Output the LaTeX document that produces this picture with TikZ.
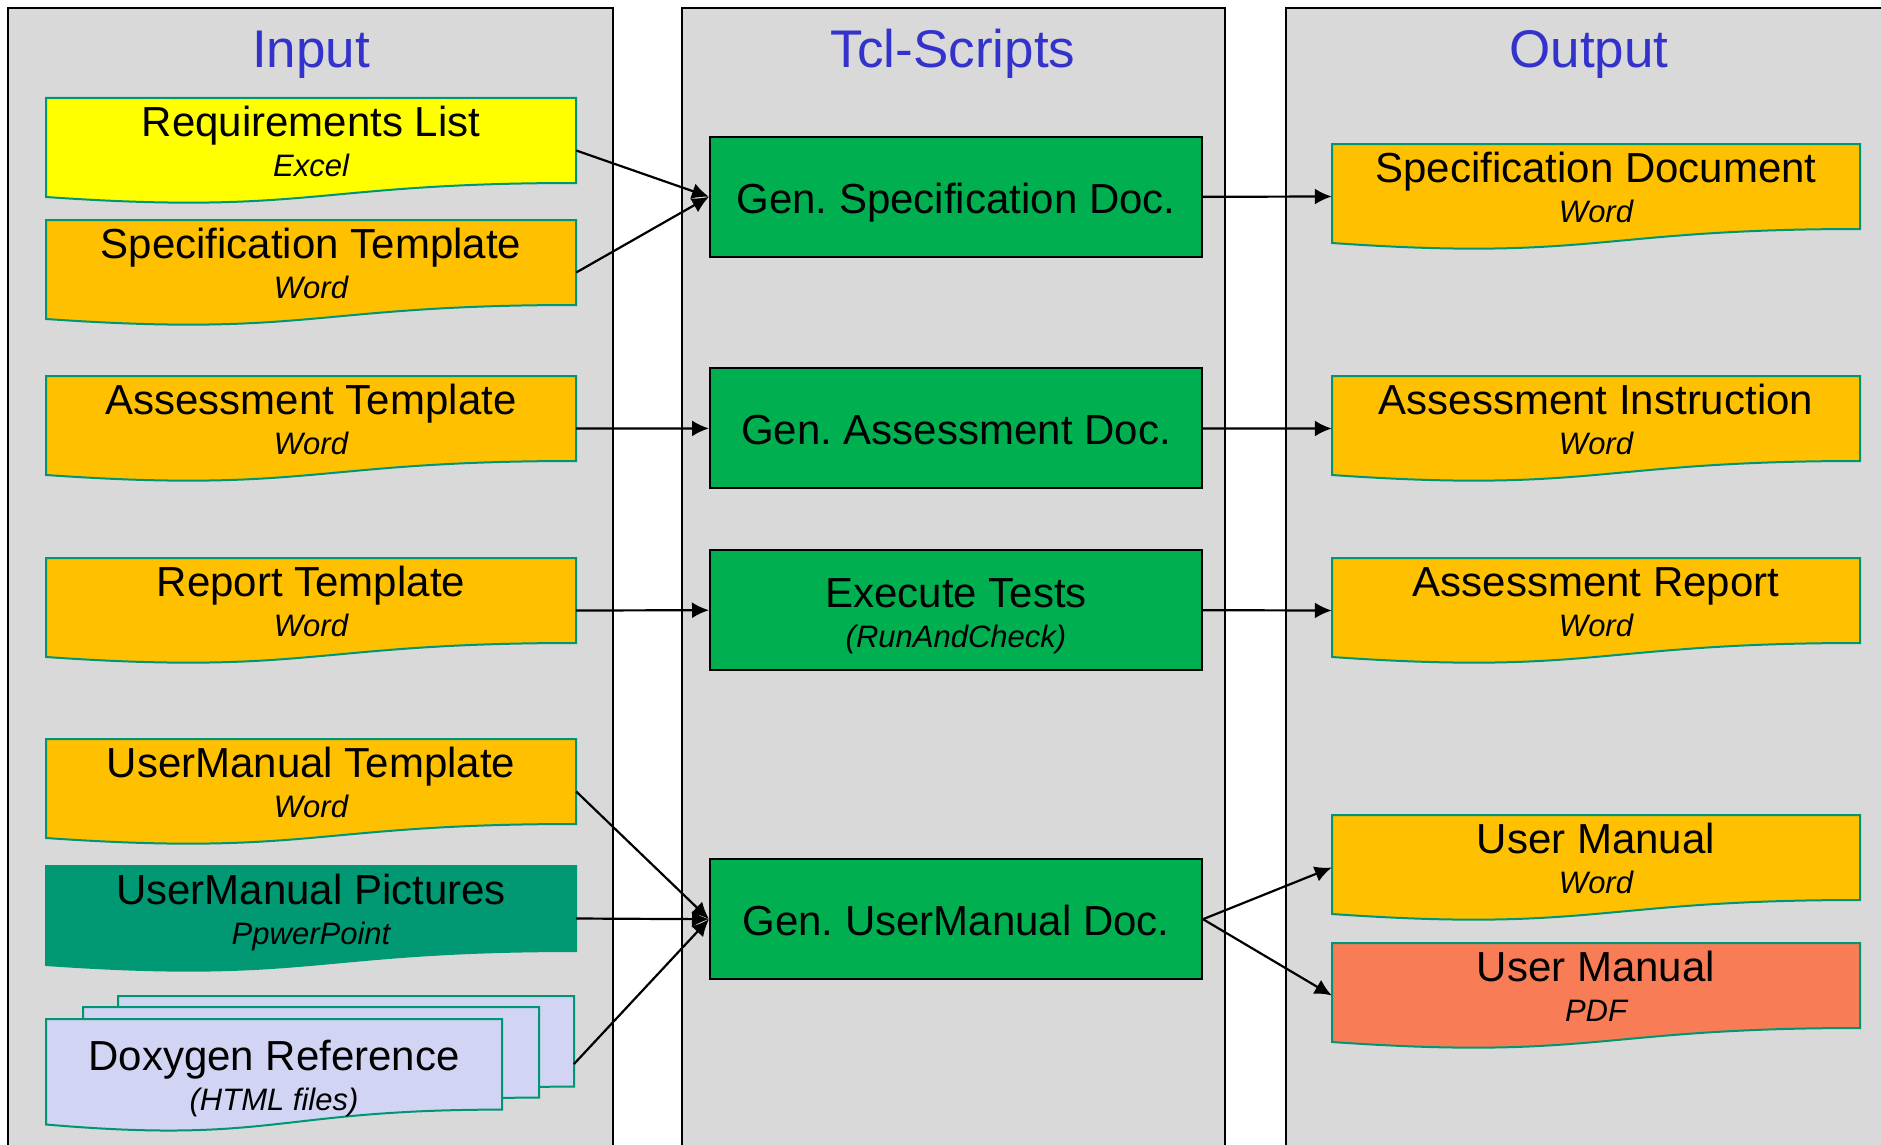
\documentclass[tikz,border=0pt]{standalone}
\usepackage{fontspec}
\setmainfont{Liberation Sans}
\usetikzlibrary{arrows.meta}

\definecolor{panelgray}{RGB}{217,217,217}
\definecolor{titleblue}{RGB}{51,51,204}
\definecolor{docedge}{RGB}{0,150,115}
\definecolor{xlsyellow}{RGB}{255,255,0}
\definecolor{wordorange}{RGB}{255,192,0}
\definecolor{tclgreen}{RGB}{0,176,80}
\definecolor{pptteal}{RGB}{0,153,115}
\definecolor{htmllav}{RGB}{210,212,244}
\definecolor{pdfcoral}{RGB}{248,125,86}

\newcommand{\ftype}[1]{{\fontsize{31}{40}\selectfont\itshape #1}}

\begin{document}
\frenchspacing
\begin{tikzpicture}[x=1pt, y=-1pt,
  panel/.style={draw=black, line width=2pt, fill=panelgray},
  coltitle/.style={anchor=base, text=titleblue, font=\fontsize{53}{60}\selectfont},
  docshape/.style={draw=docedge, line width=2pt},
  doctext/.style={inner sep=0pt, align=center, text height=78.5pt, text depth=26.5pt, font=\fontsize{42}{40}\selectfont},
  tclbox/.style={draw=black, line width=2pt, fill=tclgreen, minimum width=492pt, minimum height=120pt, inner sep=0pt, align=center, text height=40pt, text depth=7pt, font=\fontsize{42}{40}\selectfont},
  flow/.style={-{Latex[length=17pt,width=16pt]}, line width=2.2pt}]
\useasboundingbox (0,0) rectangle (1881,1145);
\clip (0,0) rectangle (1881,1145);

\draw[panel] (8,8) rectangle (613,1200);
\draw[panel] (682,8) rectangle (1225,1200);
\draw[panel] (1286,8) rectangle (1950,1200);

\node[coltitle] (intitle) at (311,68) {Input};
\node[coltitle] (tcltitle) at (953,68) {Tcl-Scripts};
\node[coltitle] (outtitle) at (1589,68) {Output};

% input documents
\filldraw[docshape, fill=xlsyellow] (46,98) -- (576,98) -- (576,183) .. controls (311,183) and (311,215.4) .. (46,197) -- cycle;
\node[doctext, minimum width=530pt] (reqlist) at (311,150.5) {Requirements List\\\ftype{Excel}};

\filldraw[docshape, fill=wordorange] (46,220) -- (576,220) -- (576,305) .. controls (311,305) and (311,337.4) .. (46,319) -- cycle;
\node[doctext, minimum width=530pt] (spectpl) at (311,272.5) {Specification Template\\\ftype{Word}};

\filldraw[docshape, fill=wordorange] (46,376) -- (576,376) -- (576,461) .. controls (311,461) and (311,493.4) .. (46,475) -- cycle;
\node[doctext, minimum width=530pt] (assesstpl) at (311,428.5) {Assessment Template\\\ftype{Word}};

\filldraw[docshape, fill=wordorange] (46,558) -- (576,558) -- (576,643) .. controls (311,643) and (311,675.4) .. (46,657) -- cycle;
\node[doctext, minimum width=530pt] (reporttpl) at (311,610.5) {Report Template\\\ftype{Word}};

\filldraw[docshape, fill=wordorange] (46,739) -- (576,739) -- (576,824) .. controls (311,824) and (311,856.4) .. (46,838) -- cycle;
\node[doctext, minimum width=530pt] (umtpl) at (311,791.5) {UserManual Template\\\ftype{Word}};

\filldraw[docshape, draw=pptteal, fill=pptteal] (46,866) -- (576,866) -- (576,951) .. controls (311,951) and (311,983.4) .. (46,965) -- cycle;
\node[doctext, minimum width=530pt] (umpics) at (311,918.5) {UserManual Pictures\\\ftype{PpwerPoint}};

% doxygen: stack of pages
\filldraw[docshape, fill=htmllav] (118,996) -- (574,996) -- (574,1086.6) .. controls (346,1086.6) and (346,1121.1) .. (118,1101.5) -- cycle;
\filldraw[docshape, fill=htmllav] (83,1007) -- (539,1007) -- (539,1097.6) .. controls (311,1097.6) and (311,1132.1) .. (83,1112.5) -- cycle;
\filldraw[docshape, fill=htmllav] (46,1019) -- (502,1019) -- (502,1109.6) .. controls (274,1109.6) and (274,1144.1) .. (46,1124.5) -- cycle;
\node[doctext, minimum width=456pt, text height=91pt, text depth=20.6pt] (doxygen) at (274,1074.8) {Doxygen Reference\\\ftype{(HTML files)}};
\coordinate (doxygen-e) at (574,1064);

% tcl scripts
\node[tclbox] (genspec) at (956,196.8) {Gen. Specification Doc.};
\node[tclbox] (genassess) at (956,428.4) {Gen. Assessment Doc.};
\node[tclbox, text height=97pt, text depth=23pt] (exectests) at (956,610.2) {Execute Tests\\\ftype{(RunAndCheck)}};
\node[tclbox] (genuserman) at (956,919.2) {Gen. UserManual Doc.};

% output documents
\filldraw[docshape, fill=wordorange] (1332,144) -- (1860,144) -- (1860,229) .. controls (1596,229) and (1596,261.4) .. (1332,243) -- cycle;
\node[doctext, minimum width=528pt] (specdoc) at (1596,196.5) {Specification Document\\\ftype{Word}};

\filldraw[docshape, fill=wordorange] (1332,376) -- (1860,376) -- (1860,461) .. controls (1596,461) and (1596,493.4) .. (1332,475) -- cycle;
\node[doctext, minimum width=528pt] (assessinstr) at (1596,428.5) {Assessment Instruction\\\ftype{Word}};

\filldraw[docshape, fill=wordorange] (1332,558) -- (1860,558) -- (1860,643) .. controls (1596,643) and (1596,675.4) .. (1332,657) -- cycle;
\node[doctext, minimum width=528pt] (assessrep) at (1596,610.5) {Assessment Report\\\ftype{Word}};

\filldraw[docshape, fill=wordorange] (1332,815) -- (1860,815) -- (1860,900) .. controls (1596,900) and (1596,932.4) .. (1332,914) -- cycle;
\node[doctext, minimum width=528pt] (umword) at (1596,867.5) {User Manual\\\ftype{Word}};

\filldraw[docshape, fill=pdfcoral] (1332,943) -- (1860,943) -- (1860,1028) .. controls (1596,1028) and (1596,1060.4) .. (1332,1042) -- cycle;
\node[doctext, minimum width=528pt] (umpdf) at (1596,995.5) {User Manual\\\ftype{PDF}};

% connectors
\draw[flow] (reqlist.east) -- (genspec.west);
\draw[flow] (spectpl.east) -- (genspec.west);
\draw[flow] (assesstpl.east) -- (genassess.west);
\draw[flow] (reporttpl.east) -- (exectests.west);
\draw[flow] (umtpl.east) -- (genuserman.west);
\draw[flow] (umpics.east) -- (genuserman.west);
\draw[flow] (doxygen-e) -- (genuserman.west);

\draw[flow] (genspec.east) -- (specdoc.west);
\draw[flow] (genassess.east) -- (assessinstr.west);
\draw[flow] (exectests.east) -- (assessrep.west);
\draw[flow] (genuserman.east) -- (umword.west);
\draw[flow] (genuserman.east) -- (umpdf.west);
\end{tikzpicture}
\end{document}
